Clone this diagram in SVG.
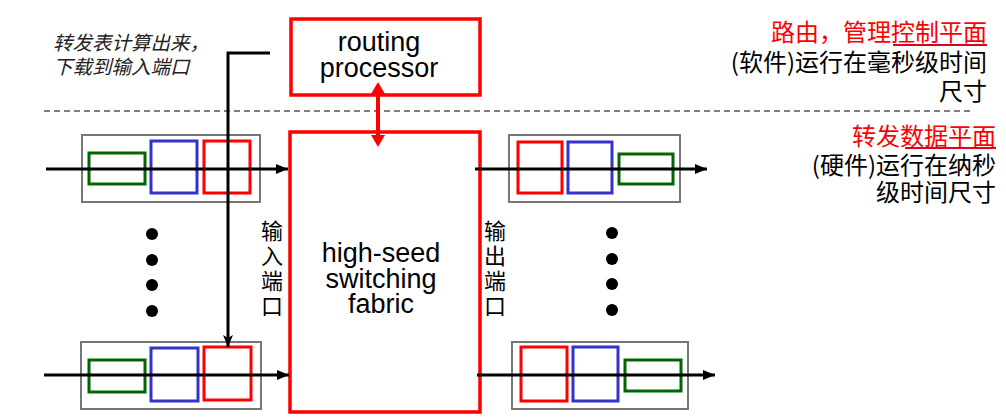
<svg xmlns="http://www.w3.org/2000/svg" width="1006" height="418" viewBox="0 0 1006 418">
<defs>
<style>
.box{fill:none;stroke:#777;stroke-width:2}
.r{fill:none;stroke:#FF0000;stroke-width:3}
.b{fill:none;stroke:#3333CC;stroke-width:3}
.g{fill:none;stroke:#006600;stroke-width:3}
.big{fill:none;stroke:#FF0000;stroke-width:3.5}
.en{font-family:"Liberation Sans",Arial,sans-serif;font-size:27px;fill:#000;text-anchor:middle}
.cn{font-family:"Noto Sans CJK SC",sans-serif;font-size:24px;fill:#000}
.vl{font-family:"Noto Sans CJK SC",sans-serif;font-size:22px;fill:#000;writing-mode:vertical-rl;text-orientation:upright;letter-spacing:3px}
.red{fill:#FF0000}
.arr{stroke:#000;stroke-width:3;fill:none}
</style>
<marker id="ah" viewBox="0 0 12 10" refX="12" refY="5" markerWidth="12" markerHeight="10" markerUnits="userSpaceOnUse" orient="auto">
<path d="M0,0 L12,5 L0,10 Z" fill="#000"/>
</marker>
<marker id="ah2" viewBox="0 0 12 10" refX="12" refY="5" markerWidth="12" markerHeight="10" markerUnits="userSpaceOnUse" orient="auto">
<path d="M0,0 L12,5 L0,10 L3,5 Z" fill="#000"/>
</marker>
</defs>
<rect width="1006" height="418" fill="#fff"/>

<line x1="44" y1="111" x2="972" y2="111" stroke="#555" stroke-width="1.5" stroke-dasharray="6,4"/>

<g id="routing-processor">
<rect class="big" x="291" y="19" width="189" height="76"/>
<text class="en" x="379" y="51">routing<tspan x="379" dy="26">processor</tspan></text>
</g>

<g id="fabric">
<rect class="big" x="290" y="132" width="190" height="280"/>
<text class="en" x="381" y="262">high-seed<tspan x="381" dy="26">switching</tspan><tspan x="381" dy="25">fabric</tspan></text>
</g>

<g id="input-port-top">
<rect class="box" x="82" y="135" width="178" height="67"/>
<rect class="g" x="89" y="153" width="56" height="31"/>
<rect class="b" x="151" y="141" width="46" height="52"/>
<rect class="r" x="204" y="141" width="46" height="52"/>
</g>

<g id="input-port-bottom">
<rect class="box" x="81" y="342" width="180" height="67"/>
<rect class="g" x="89" y="360" width="56" height="32"/>
<rect class="b" x="151" y="348" width="47" height="53"/>
<rect class="r" x="204" y="347" width="47" height="53"/>
</g>

<g id="output-port-top">
<rect class="box" x="509" y="135" width="171" height="67"/>
<rect class="r" x="518" y="142" width="44" height="51"/>
<rect class="b" x="568" y="142" width="44" height="51"/>
<rect class="g" x="619" y="154" width="54" height="30"/>
</g>

<g id="output-port-bottom">
<rect class="box" x="512" y="342" width="176" height="67"/>
<rect class="r" x="521" y="347" width="46" height="54"/>
<rect class="b" x="573" y="347" width="45" height="54"/>
<rect class="g" x="625" y="360" width="56" height="31"/>
</g>

<g id="dots-left" fill="#000">
<circle cx="152" cy="234" r="6"/>
<circle cx="152" cy="260" r="6"/>
<circle cx="152" cy="285" r="6"/>
<circle cx="152" cy="311" r="6"/>
</g>
<g id="dots-right" fill="#000">
<circle cx="612" cy="233" r="6"/>
<circle cx="612" cy="259" r="6"/>
<circle cx="612" cy="284" r="6"/>
<circle cx="612" cy="310" r="6"/>
</g>

<g id="label-input">
<text class="vl" x="272" y="220">输入端口</text>
</g>
<g id="label-output">
<text class="vl" x="495" y="220">输出端口</text>
</g>

<g id="note-left">
<text font-family="'Noto Sans CJK SC',sans-serif" font-size="19.5" font-style="italic" fill="#222" x="53" y="50">转发表计算出来，<tspan x="53" dy="24">下载到输入端口</tspan></text>
</g>

<g id="note-control" text-anchor="end">
<text class="cn" x="987" y="41"><tspan class="red">路由，管理控制平面</tspan><tspan x="987" dy="30">(软件)运行在毫秒级时间</tspan><tspan x="987" dy="29">尺寸</tspan></text>
<line x1="893" y1="45" x2="987" y2="45" stroke="#E00020" stroke-width="2"/>
</g>

<g id="note-data" text-anchor="end">
<text class="cn" x="996" y="145"><tspan class="red">转发数据平面</tspan><tspan x="996" dy="29">(硬件)运行在纳秒</tspan><tspan x="996" dy="27">级时间尺寸</tspan></text>
<line x1="905" y1="148" x2="996" y2="148" stroke="#E00020" stroke-width="2"/>
</g>

<g id="connectors">
<line class="arr" x1="46" y1="169" x2="288" y2="169" marker-end="url(#ah)"/>
<line class="arr" x1="44" y1="375" x2="289" y2="375" marker-end="url(#ah)"/>
<line class="arr" x1="475" y1="169" x2="707" y2="169" marker-end="url(#ah)"/>
<line class="arr" x1="477" y1="375" x2="715" y2="375" marker-end="url(#ah)"/>
<path class="arr" d="M270,53 H228 V347" stroke-width="2.5" marker-end="url(#ah2)"/>
<line x1="378" y1="92" x2="378" y2="136" stroke="#FF0000" stroke-width="4"/>
<path d="M378,82 L385,94 L371,94 Z" fill="#FF0000"/>
<path d="M378,147 L385,135 L371,135 Z" fill="#FF0000"/>
</g>
</svg>
